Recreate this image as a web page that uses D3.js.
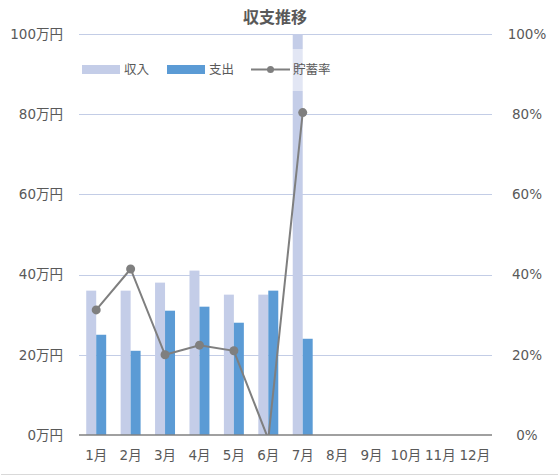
<!DOCTYPE html>
<html lang="ja">
<head>
<meta charset="UTF-8">
<title>収支推移</title>
<style>
  body { margin: 0; background: #fff; }
  svg { display: block; font-family: "Noto Sans CJK JP", "Noto Sans", sans-serif; }
  .tick text { fill: #595959; font-size: 13.5px; font-family: "DejaVu Sans", "Noto Sans CJK JP", sans-serif; }
</style>
</head>
<body>
<svg width="559" height="475"></svg>
<script src="https://d3js.org/d3.v7.min.js"></script>
<script>
// data
var months = ["1月", "2月", "3月", "4月", "5月", "6月", "7月", "8月", "9月", "10月", "11月", "12月"];
var income = [36, 36, 38, 41, 35, 35, 120];       // 万円
var expense = [25, 21, 31, 32, 28, 36, 24];       // 万円
var savingRate = [31.2, 41.4, 20, 22.4, 21, -1, 80.4]; // %
var leftTicks = [0, 20, 40, 60, 80, 100];
var rightTicks = [0, 20, 40, 60, 80, 100];

var svg = d3.select("svg");
var plotLeft = 79, plotRight = 492, plotTop = 34, plotBottom = 435;

var x0 = d3.scaleBand()
    .domain(months)
    .range([plotLeft, plotRight])
    .paddingInner(0.42)
    .paddingOuter(0.21);

var x1 = d3.scaleBand()
    .domain(["収入", "支出"])
    .range([0, x0.bandwidth()]);

var y = d3.scaleLinear().domain([0, 100]).range([plotBottom, plotTop]);
var y2 = d3.scaleLinear().domain([0, 100]).range([plotBottom, plotTop]);

var colors = {"収入": "#c4cde8", "支出": "#5b9bd5"};

svg.append("defs").append("clipPath")
    .attr("id", "plot")
  .append("rect")
    .attr("x", plotLeft).attr("y", plotTop)
    .attr("width", plotRight - plotLeft).attr("height", plotBottom - plotTop);

// grid lines
svg.append("g")
    .selectAll("line")
    .data(leftTicks.slice(1))
    .join("line")
    .attr("x1", plotLeft).attr("x2", plotRight)
    .attr("y1", function (d) { return Math.round(y(d)) + 0.5; })
    .attr("y2", function (d) { return Math.round(y(d)) + 0.5; })
    .attr("stroke", "#c3cde6")
    .attr("stroke-width", 1);

// left axis
var gl = svg.append("g")
    .attr("transform", "translate(" + plotLeft + ",0)")
    .call(d3.axisLeft(y).tickValues(leftTicks).tickSize(0).tickPadding(16)
        .tickFormat(function (d) { return d + "万円"; }));
gl.select(".domain").remove();

// right axis
var gr = svg.append("g")
    .attr("transform", "translate(" + plotRight + ",0)")
    .call(d3.axisRight(y2).tickValues(rightTicks).tickSize(0).tickPadding(0)
        .tickFormat(function (d) { return d + "%"; }));
gr.select(".domain").remove();
gr.selectAll("text").attr("text-anchor", "middle").attr("x", 35);

// bars
var data = income.map(function (v, i) {
  return {month: months[i], values: [{k: "収入", v: v}, {k: "支出", v: expense[i]}]};
});

var plot = svg.append("g").attr("clip-path", "url(#plot)");

plot.selectAll("g.grp")
    .data(data)
    .join("g")
    .attr("class", "grp")
    .attr("transform", function (d) { return "translate(" + x0(d.month) + ",0)"; })
  .selectAll("rect")
    .data(function (d) { return d.values; })
    .join("rect")
    .attr("x", function (d) { return x1(d.k); })
    .attr("width", x1.bandwidth())
    .attr("y", function (d) { return y(d.v); })
    .attr("height", function (d) { return plotBottom - y(d.v); })
    .attr("fill", function (d) { return colors[d.k]; });

// bottom axis
var gb = svg.append("g")
    .attr("transform", "translate(0," + plotBottom + ")")
    .call(d3.axisBottom(x0).tickSize(0).tickPadding(15));
gb.select(".domain").attr("stroke", "#808080").attr("stroke-width", 1.3)
    .attr("d", "M" + plotLeft + ",0H" + plotRight);

// saving rate line
var cx = function (i) { return x0(months[i]) + x0.bandwidth() / 2; };
var line = d3.line()
    .x(function (d, i) { return cx(i); })
    .y(function (d) { return y2(d); });

plot.append("path")
    .datum(savingRate)
    .attr("d", line)
    .attr("fill", "none")
    .attr("stroke", "#7f7f7f")
    .attr("stroke-width", 2);

var dots = svg.append("g").attr("clip-path", "url(#plot)");
dots.selectAll("circle")
    .data(savingRate)
    .join("circle")
    .attr("cx", function (d, i) { return cx(i); })
    .attr("cy", function (d) { return y2(d); })
    .attr("r", 4.5)
    .attr("fill", "#7f7f7f")
    .attr("display", function (d) { return d < 0 ? "none" : null; });

// legend
var lg = svg.append("g");
lg.append("rect")
    .attr("x", 76).attr("y", 49)
    .attr("width", 262).attr("height", 42)
    .attr("fill", "#fff").attr("fill-opacity", 0.5);

var items = [
  {name: "収入", type: "bar", x: 82},
  {name: "支出", type: "bar", x: 167},
  {name: "貯蓄率", type: "line", x: 251}
];
items.forEach(function (it) {
  if (it.type === "bar") {
    lg.append("rect").attr("x", it.x).attr("y", 65).attr("width", 38).attr("height", 9)
        .attr("fill", colors[it.name]);
  } else {
    lg.append("line").attr("x1", it.x).attr("x2", it.x + 39).attr("y1", 69.5).attr("y2", 69.5)
        .attr("stroke", "#7f7f7f").attr("stroke-width", 2);
    lg.append("circle").attr("cx", it.x + 19.5).attr("cy", 69.5).attr("r", 3.5).attr("fill", "#7f7f7f");
  }
  lg.append("text")
      .attr("x", it.x + 42).attr("y", 74)
      .attr("fill", "#595959").attr("font-size", "12.5px")
      .text(it.name);
});

// title
svg.append("text")
    .attr("x", 275).attr("y", 23)
    .attr("text-anchor", "middle")
    .attr("fill", "#595959")
    .attr("font-size", "16px")
    .attr("font-weight", "bold")
    .text("収支推移");

// chart border (bottom edge)
svg.append("line")
    .attr("x1", 1).attr("x2", 558).attr("y1", 474.5).attr("y2", 474.5)
    .attr("stroke", "#d9d9d9");
</script>
</body>
</html>
